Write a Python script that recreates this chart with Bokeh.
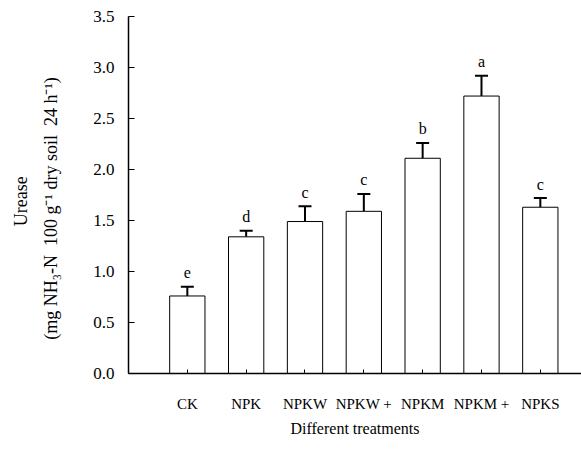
from bokeh.plotting import figure
from bokeh.models import FixedTicker, Whisker, ColumnDataSource, Range1d, TeeHead, Title
from bokeh.core.properties import value
from bokeh.embed import file_html
from bokeh.resources import INLINE

categories = ["CK", "NPK", "NPKW", "NPKW +", "NPKM", "NPKM +", "NPKS"]
urease = [0.76, 1.34, 1.49, 1.59, 2.11, 2.72, 1.63]
errors = [0.09, 0.06, 0.15, 0.17, 0.15, 0.20, 0.09]
letters = ["e", "d", "c", "c", "b", "a", "c"]
y_ticks = [0.0, 0.5, 1.0, 1.5, 2.0, 2.5, 3.0, 3.5]

xs = list(range(1, len(categories) + 1))
upper = [v + e for v, e in zip(urease, errors)]
src = ColumnDataSource(dict(x=xs, top=urease, upper=upper, letter=letters))

FONT = "Liberation Serif"
SP = "\u2002"

p = figure(width=581, height=453, output_backend="svg", toolbar_location=None,
           x_range=Range1d(0, 7.7), y_range=Range1d(0, 3.5),
           min_border_left=127, min_border_top=16, min_border_bottom=80, min_border_right=0)
p.outline_line_color = None
p.xgrid.grid_line_color = None
p.ygrid.grid_line_color = None
p.background_fill_color = "white"

p.vbar(x="x", top="top", width=0.6, bottom=0, source=src,
       fill_color="white", line_color="black", line_width=1)

w = Whisker(base="x", lower="top", upper="upper", source=src, line_color="black", line_width=2,
            upper_head=TeeHead(size=13, line_color="black", line_width=2), lower_head=None)
p.add_layout(w)

p.text(x="x", y="upper", text="letter", source=src, text_align="center",
       text_baseline="alphabetic", y_offset=-14, text_font=value(FONT),
       text_font_size="16px", text_color="black")

# y axis
ya = p.yaxis[0]
ya.ticker = FixedTicker(ticks=y_ticks)
ya.major_label_overrides = {t: f"{t:.1f}" for t in y_ticks}
ya.major_tick_in = 6
ya.major_tick_out = 0
ya.minor_tick_line_color = None
ya.major_label_standoff = 14
ya.major_label_text_font = FONT
ya.major_label_text_font_size = "17px"
ya.major_label_text_color = "black"
ya.axis_line_width = 1.5
ya.axis_line_color = "black"
ya.major_tick_line_color = "black"
ya.axis_label = f"(mg NH\u2083-N{SP}100 g\u207b\u00b9 dry soil{SP}24 h\u207b\u00b9){SP}{SP}{SP}"
ya.axis_label_text_font = FONT
ya.axis_label_text_font_size = "18px"
ya.axis_label_text_font_style = "normal"
ya.axis_label_text_color = "black"
ya.axis_label_standoff = 29

p.add_layout(Title(text="Urease\u2002\u2009", align="center", text_font=FONT, text_font_size="18px",
                   text_font_style="normal", text_color="black", standoff=16), "left")

# x axis
xa = p.xaxis[0]
xa.ticker = FixedTicker(ticks=xs)
xa.major_label_overrides = {x: c for x, c in zip(xs, categories)}
xa.major_tick_in = 4
xa.major_tick_out = 0
xa.minor_tick_line_color = None
xa.major_label_standoff = 22
xa.major_label_text_font = FONT
xa.major_label_text_font_size = "15px"
xa.major_label_text_color = "black"
xa.axis_line_width = 1.5
xa.axis_line_color = "black"
xa.major_tick_line_color = "black"
xa.axis_label = "Different treatments"
xa.axis_label_text_font = FONT
xa.axis_label_text_font_size = "16px"
xa.axis_label_text_font_style = "normal"
xa.axis_label_text_color = "black"
xa.axis_label_standoff = 5

open("out.html", "w").write(file_html(p, INLINE))
